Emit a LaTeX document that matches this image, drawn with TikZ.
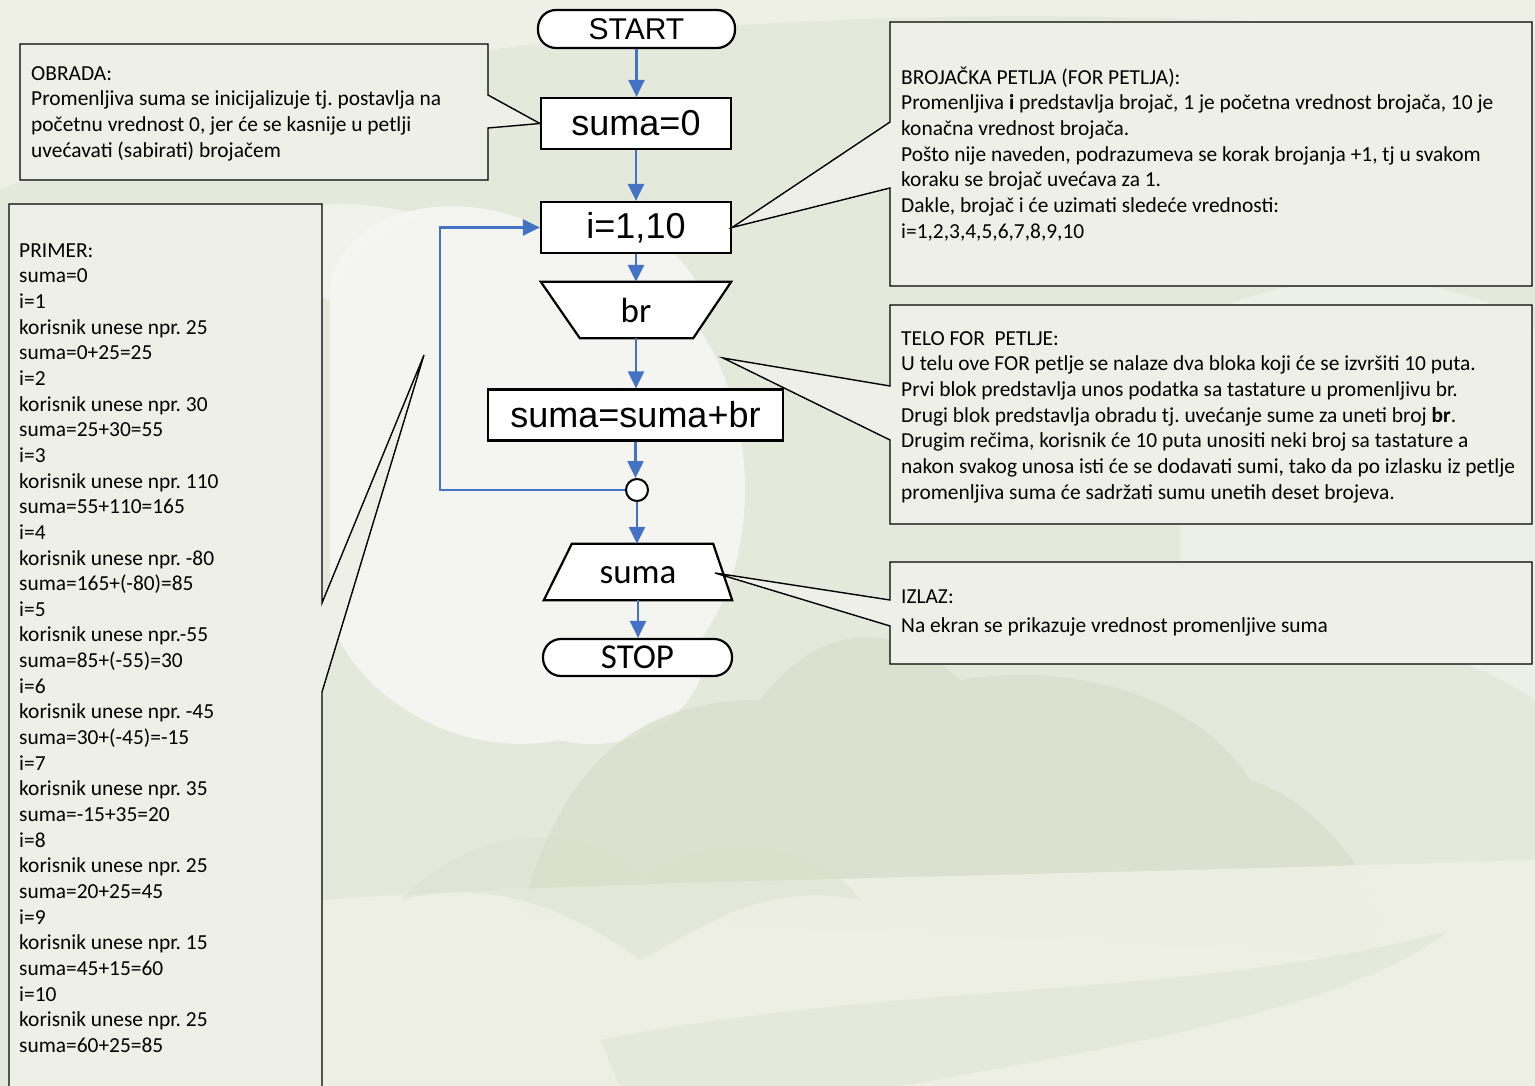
\documentclass[tikz,border=0pt]{standalone}
\usepackage{fontspec}
\setmainfont{Carlito}
\newfontfamily\arialf{Liberation Sans}
\usetikzlibrary{arrows.meta,calc}
\frenchspacing

\definecolor{bgbase}{RGB}{229,233,219}
\definecolor{bglight}{RGB}{246,247,243}
\definecolor{bgmid}{RGB}{238,240,230}
\definecolor{bgdark}{RGB}{218,224,204}
\definecolor{flowblue}{RGB}{68,114,196}
\definecolor{notefill}{RGB}{238,239,231}

% fixed first-line height so every note starts from a known baseline
\newcommand{\firstline}{\rule{0pt}{18pt}}

\tikzset{
  flow/.style={draw=flowblue, line width=2.5pt, -{Triangle[length=17pt,width=16pt]}},
  procbox/.style={draw=black, fill=white, line width=2.2pt, minimum height=51pt,
    inner sep=0pt, font=\arialf\fontsize{36}{40}\selectfont},
  termbox/.style={draw=black, fill=white, line width=2.2pt, rounded corners=18pt,
    inner sep=0pt},
  ioshape/.style={draw=black, fill=white, line width=2.2pt},
  iotext/.style={draw=none, inner sep=0pt, minimum height=56pt,
    font=\fontsize{35}{40}\selectfont},
  notebox/.style={draw=black, fill=notefill, line width=1.4pt, line join=miter},
  notetext/.style={anchor=north west, inner sep=0pt, align=left,
    font=\fontsize{21.4}{25.65}\selectfont},
}

\begin{document}
\begin{tikzpicture}[x=1pt,y=-1pt]
\path[use as bounding box] (0,0) rectangle (1535,1086);

% soft landscape backdrop
\fill[bgbase] (0,0) rectangle (1535,1086);
\fill[bgmid] (0,0) -- (1535,0) -- (1535,40) .. controls (1200,10) and (800,0) .. (420,60) .. controls (250,80) and (100,150) .. (0,190) -- cycle;
\fill[bglight, opacity=0.9] (330,300) .. controls (330,200) and (480,180) .. (560,240)
  .. controls (620,200) and (720,260) .. (700,330)
  .. controls (760,420) and (760,560) .. (700,640)
  .. controls (720,700) and (640,760) .. (560,740)
  .. controls (460,760) and (360,700) .. (330,620) -- cycle;
\fill[bglight, opacity=0.7] (200,260) .. controls (240,210) and (330,190) .. (420,215) .. controls (380,240) and (340,260) .. (330,300) -- cycle;
\fill[bgdark, opacity=0.8] (520,920) .. controls (560,760) and (640,700) .. (760,700)
  .. controls (820,620) and (900,620) .. (960,680)
  .. controls (1080,660) and (1200,700) .. (1250,780)
  .. controls (1320,800) and (1400,900) .. (1380,960)
  .. controls (1100,940) and (800,930) .. (520,920) -- cycle;
\fill[bgmid, opacity=0.9] (322,900) .. controls (600,880) and (900,880) .. (1535,860) -- (1535,1086) -- (322,1086) -- cycle;
\fill[bgdark, opacity=0.45] (400,900) .. controls (500,800) and (620,840) .. (640,880) .. controls (700,830) and (820,840) .. (860,900) .. controls (760,880) and (700,930) .. (640,960) .. controls (560,900) and (480,880) .. (400,900) -- cycle;
\fill[bgdark, opacity=0.4] (600,1040) .. controls (900,980) and (1200,1000) .. (1450,930) .. controls (1350,1010) and (1100,1050) .. (900,1086) -- (620,1086) -- cycle;
\fill[bglight, opacity=0.5] (1180,330) .. controls (1300,250) and (1480,280) .. (1535,330) -- (1535,700) .. controls (1450,640) and (1300,620) .. (1180,560) -- cycle;

% flowchart blocks
\node[termbox, minimum width=197pt, minimum height=38pt,
  font=\arialf\fontsize{30}{34}\selectfont] (start) at (636.5,29) {START};
\node[procbox, minimum width=190pt] (s0) at (636,123.5) {suma=0};
\node[procbox, minimum width=190pt] (loop) at (636,227.5) {i=1,10};
\node[iotext, minimum width=190pt] (br) at (636,310) {};
\node[procbox, minimum width=295pt] (acc) at (635.5,415) {suma=suma+br};
\node[draw=black, fill=white, line width=2pt, circle, minimum size=22pt, inner sep=0pt] (joint) at (637,490) {};
\node[iotext, minimum width=188pt] (out) at (638,572) {};
\node[termbox, minimum width=189pt, minimum height=37pt,
  font=\fontsize{35}{38}\selectfont] (stop) at (637.5,657.5) {STOP};

% input / output parallelograms with their labels
\path[ioshape] (br.north west) -- (br.north east) -- ($(br.south east)+(-38,0)$)
  -- ($(br.south west)+(39,0)$) -- cycle;
\node[iotext, minimum width=190pt] (brLabel) at (br) {br};
\path[ioshape] ($(out.north west)+(28,0)$) -- ($(out.north east)+(-19,0)$)
  -- (out.south east) -- (out.south west) -- cycle;
\node[iotext, minimum width=188pt] (outLabel) at ($(out)+(0,3)$) {suma};

% flow connectors
\draw[flow] (start.south) -- (start.south |- s0.north);
\draw[flow] (s0.south) -- (s0.south |- loop.north);
\draw[flow] (loop.south) -- (loop.south |- br.north);
\draw[flow] (br.south) -- (br.south |- acc.north);
\draw[flow] (acc.south) -- (acc.south |- joint.north);
\draw[flow] (joint.south) -- (joint.south |- out.north);
\draw[flow] (out.south) -- (out.south |- stop.north);
\draw[flow] (joint.west) -- ++(-185,0) |- (loop.west);

% callout tips
\coordinate (teloTip) at (723,358);
\coordinate (izlazTip) at (715,573);
\coordinate (primerTip) at (424,355);

% callout outlines
\path[notebox] (20,44) -- (488,44) -- (488,95) -- (s0.west) -- (488,128)
  -- (488,180) -- (20,180) -- cycle;
\path[notebox] (890,22) -- (1532,22) -- (1532,286) -- (890,286) -- (890,188)
  -- (loop.east) -- (890,122) -- cycle;
\path[notebox] (890,305) -- (1532,305) -- (1532,524) -- (890,524) -- (890,440)
  -- (teloTip) -- (890,386) -- cycle;
\path[notebox] (890,562) -- (1532,562) -- (1532,664) -- (890,664) -- (890,626)
  -- (izlazTip) -- (890,600) -- cycle;
\path[notebox] (9,204) -- (322,204) -- (322,603) -- (primerTip) -- (322,692)
  -- (322,1095) -- (9,1095) -- cycle;

% callout texts
\node[notetext] (obrada) at (31,62) {\firstline OBRADA:\\
Promenljiva suma se inicijalizuje tj. postavlja na\\
početnu vrednost 0, jer će se kasnije u petlji\\
uvećavati (sabirati) brojačem};

\node[notetext] (forText) at (901,66) {\firstline BROJAČKA PETLJA (FOR PETLJA):\\
Promenljiva \textbf{i} predstavlja brojač, 1 je početna vrednost brojača, 10 je\\
konačna vrednost brojača.\\
Pošto nije naveden, podrazumeva se korak brojanja +1, tj u svakom\\
koraku se brojač uvećava za 1.\\
Dakle, brojač i će uzimati sledeće vrednosti:\\
i=1,2,3,4,5,6,7,8,9,10};

\node[notetext] (teloText) at (901,327) {\firstline TELO FOR\ \ PETLJE:\\
U telu ove FOR petlje se nalaze dva bloka koji će se izvršiti 10 puta.\\
Prvi blok predstavlja unos podatka sa tastature u promenljivu br.\\
Drugi blok predstavlja obradu tj. uvećanje sume za uneti broj \textbf{br}.\\
Drugim rečima, korisnik će 10 puta unositi neki broj sa tastature a\\
nakon svakog unosa isti će se dodavati sumi, tako da po izlasku iz petlje\\
promenljiva suma će sadržati sumu unetih deset brojeva.};

\node[notetext, font=\fontsize{21.4}{29}\selectfont] (izlazText) at (901,585) {\firstline IZLAZ:\\
Na ekran se prikazuje vrednost promenljive suma};

\node[notetext] (primerText) at (19,239) {\firstline PRIMER:\\
suma=0\\
i=1\\
korisnik unese npr. 25\\
suma=0+25=25\\
i=2\\
korisnik unese npr. 30\\
suma=25+30=55\\
i=3\\
korisnik unese npr. 110\\
suma=55+110=165\\
i=4\\
korisnik unese npr. -80\\
suma=165+(-80)=85\\
i=5\\
korisnik unese npr.-55\\
suma=85+(-55)=30\\
i=6\\
korisnik unese npr. -45\\
suma=30+(-45)=-15\\
i=7\\
korisnik unese npr. 35\\
suma=-15+35=20\\
i=8\\
korisnik unese npr. 25\\
suma=20+25=45\\
i=9\\
korisnik unese npr. 15\\
suma=45+15=60\\
i=10\\
korisnik unese npr. 25\\
suma=60+25=85};
\end{tikzpicture}
\end{document}
